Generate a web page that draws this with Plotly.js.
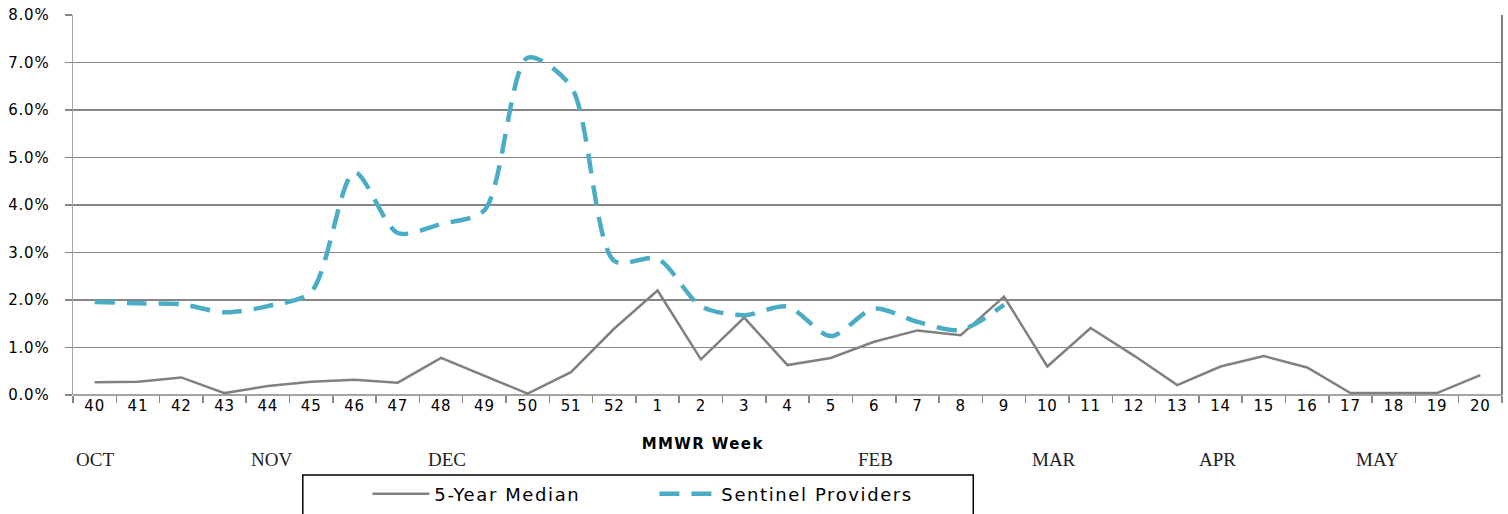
<!DOCTYPE html>
<html>
<head>
<meta charset="utf-8">
<script src="https://cdn.plot.ly/plotly-3.0.1.min.js"></script>
<style>
  html, body { margin: 0; padding: 0; background: #fff; }
  #chart { width: 1508px; height: 514px; }
  #chart .legendtext { letter-spacing: 1.6px; }
  #chart .xtick text, #chart .ytick text { letter-spacing: 0.8px; }
  #chart g.annotation[data-index="7"] text { letter-spacing: 1.4px; }
</style>
</head>
<body>
<div id="chart"></div>
<script>
// MMWR weeks (categories)
const weeks = ["40","41","42","43","44","45","46","47","48","49","50","51","52",
               "1","2","3","4","5","6","7","8","9","10","11","12","13","14","15","16","17","18","19","20"];

// 5-Year Median (%)
const medianValues = [0.27,0.28,0.37,0.04,0.19,0.28,0.32,0.26,0.78,0.40,0.03,0.48,1.40,
                      2.20,0.75,1.63,0.63,0.78,1.12,1.36,1.26,2.07,0.60,1.41,0.83,0.21,0.60,0.82,0.58,0.04,0.04,0.04,0.42];

// Sentinel Providers (%) — reported through week 9
const sentinelWeeks = ["40","41","42","43","44","45","46","47","48","49","50","51","52",
                       "1","2","3","4","5","6","7","8","9"];
const sentinelValues = [1.96,1.93,1.91,1.74,1.87,2.17,4.69,3.41,3.60,3.89,7.10,6.50,2.82,
                        2.87,1.87,1.68,1.86,1.24,1.82,1.54,1.37,1.90];

// Y tick labels
const yTickVals = [0,1,2,3,4,5,6,7,8];
const yTickText = ["0.0%","1.0%","2.0%","3.0%","4.0%","5.0%","6.0%","7.0%","8.0%"];

// Month labels and their paper x positions
const monthLabels = ["OCT","NOV","DEC","FEB","MAR","APR","MAY"];
const monthPos    = [0.0154, 0.1392, 0.2615, 0.5615, 0.6867, 0.8007, 0.9126];

const traces = [
  {
    x: weeks, y: medianValues, name: "5-Year Median", type: "scatter", mode: "lines",
    line: { color: "#808080", width: 2.5 }
  },
  {
    x: sentinelWeeks, y: sentinelValues, name: "Sentinel Providers", type: "scatter", mode: "lines",
    line: { color: "#4BACC6", width: 4.5, dash: "20px,12px", shape: "spline", smoothing: 0.8 }
  }
];

const annotations = monthLabels.map((m, i) => ({
  text: m, xref: "paper", yref: "paper", x: monthPos[i], y: -0.171,
  xanchor: "center", yanchor: "middle", showarrow: false,
  font: { family: "Liberation Serif, Times New Roman, serif", size: 19, color: "#222" }
}));
annotations.push({
  text: "<b>MMWR Week</b>", xref: "paper", yref: "paper", x: 0.441, y: -0.129,
  xanchor: "center", yanchor: "middle", showarrow: false,
  font: { family: "DejaVu Sans, Verdana, sans-serif", size: 15, color: "#000" }
});

const layout = {
  width: 1508, height: 514,
  margin: { l: 73, r: 6, t: 15, b: 119 },
  paper_bgcolor: "#fff", plot_bgcolor: "#fff",
  showlegend: true,
  legend: {
    orientation: "h", x: 0.206, y: 0.039, xanchor: "left", yanchor: "middle",
    xref: "paper", yref: "container",
    bgcolor: "rgba(0,0,0,0)", borderwidth: 0,
    itemwidth: 57,
    entrywidth: 215, entrywidthmode: "pixels",
    font: { family: "DejaVu Sans, Verdana, sans-serif", size: 18, color: "#000" }
  },
  xaxis: {
    type: "category", categoryorder: "array", categoryarray: weeks,
    range: [-0.5, weeks.length - 0.5],
    tickson: "boundaries", ticks: "outside", ticklen: 7, tickwidth: 1.5, tickcolor: "#868686",
    showgrid: false, showline: false, zeroline: false,
    tickfont: { family: "DejaVu Sans, Verdana, sans-serif", size: 15, color: "#000" },
    fixedrange: true
  },
  yaxis: {
    range: [0, 8], tickvals: yTickVals, ticktext: yTickText,
    showgrid: true, gridcolor: "#868686", gridwidth: 1.6,
    zeroline: false,
    showline: true, linecolor: "#a6a6a6", linewidth: 1.5,
    ticks: "outside", ticklen: 7, tickwidth: 1.5, tickcolor: "#868686",
    ticklabelstandoff: 12,
    tickfont: { family: "DejaVu Sans, Verdana, sans-serif", size: 15, color: "#000" },
    fixedrange: true
  },
  shapes: [
    { type: "line", xref: "paper", yref: "paper", x0: 1, x1: 1, y0: 0, y1: 1,
      line: { color: "#808080", width: 2 } },
    { type: "line", xref: "paper", yref: "paper", x0: 0, x1: 1, y0: 0, y1: 0,
      line: { color: "#868686", width: 1.6 } },
    { type: "rect", xref: "paper", yref: "paper", x0: 0.1608, x1: 0.630, y0: -0.2105, y1: -0.35,
      line: { color: "#000", width: 1.5 }, fillcolor: "rgba(0,0,0,0)" }
  ],
  annotations: annotations
};

Plotly.newPlot("chart", traces, layout, { displayModeBar: false, staticPlot: true });
</script>
</body>
</html>
